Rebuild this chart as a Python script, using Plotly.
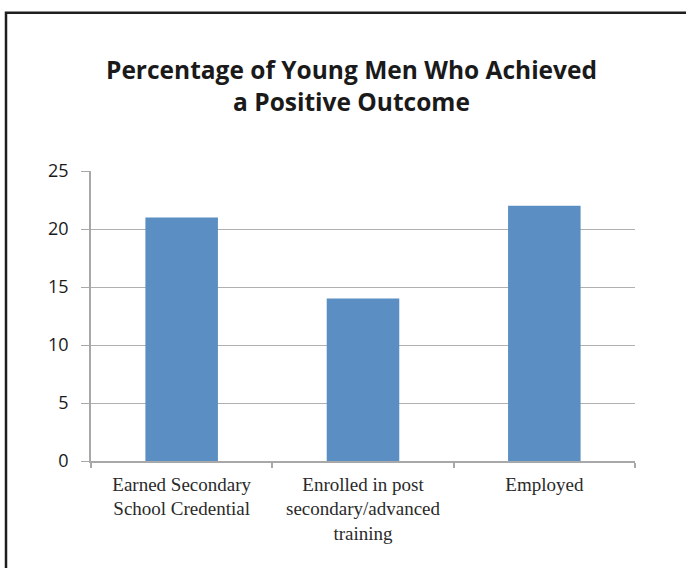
import plotly.graph_objects as go

# Share of young men reaching each outcome (%)
categories = [
    "Earned Secondary<br>School Credential",
    "Enrolled in post<br>secondary/advanced<br>training",
    "Employed",
]
values = [21, 14, 22]
y_ticks = [0, 5, 10, 15, 20, 25]

title_text = "Percentage of Young Men Who Achieved<br>a Positive Outcome"

W, H = 686, 568
L, R, T, B = 91, 51, 171, 107
pw, ph = W - L - R, H - T - B

def px_x(x):
    return (x - L) / pw

def px_y(y):
    return (H - B - y) / ph

fig = go.Figure(
    go.Bar(
        x=categories,
        y=values,
        marker=dict(color="#5b8ec2", line=dict(width=0)),
        width=0.4,
    )
)

fig.update_layout(
    width=W,
    height=H,
    margin=dict(l=L, r=R, t=T, b=B),
    paper_bgcolor="white",
    plot_bgcolor="white",
    showlegend=False,
    bargap=0.6,
)

fig.update_xaxes(
    showline=True,
    linecolor="#a8a8a8",
    linewidth=1.5,
    ticks="outside",
    tickson="boundaries",
    ticklen=5,
    tickcolor="#a8a8a8",
    tickwidth=1.5,
    showgrid=False,
    tickfont=dict(family="Liberation Serif", size=19, color="#2a2a2a"),
    ticklabelstandoff=5,
)

fig.update_yaxes(
    range=[0, 25],
    tickvals=y_ticks,
    showline=True,
    linecolor="#a8a8a8",
    linewidth=1.5,
    ticks="outside",
    ticklen=8,
    tickcolor="#a8a8a8",
    tickwidth=1.2,
    showgrid=True,
    gridcolor="#b0b0b0",
    gridwidth=1.2,
    zeroline=False,
    tickfont=dict(family="Open Sans", size=18, color="#1a1a1a"),
    ticklabelstandoff=9,
)

# Chart title
fig.add_annotation(
    text="<b>" + title_text + "</b>",
    xref="paper",
    yref="paper",
    x=px_x(351),
    y=px_y(85),
    xanchor="center",
    yanchor="middle",
    showarrow=False,
    font=dict(family="Open Sans", size=24.5, color="#1a1a1a"),
    align="center",
)

# Outer frame of the chart
fig.add_shape(
    type="rect",
    xref="paper",
    yref="paper",
    x0=px_x(6),
    x1=px_x(700),
    y0=px_y(590),
    y1=px_y(12.7),
    line=dict(color="#1e1e1e", width=2.5),
    fillcolor="rgba(0,0,0,0)",
    layer="above",
)

fig.write_html("out.html")
